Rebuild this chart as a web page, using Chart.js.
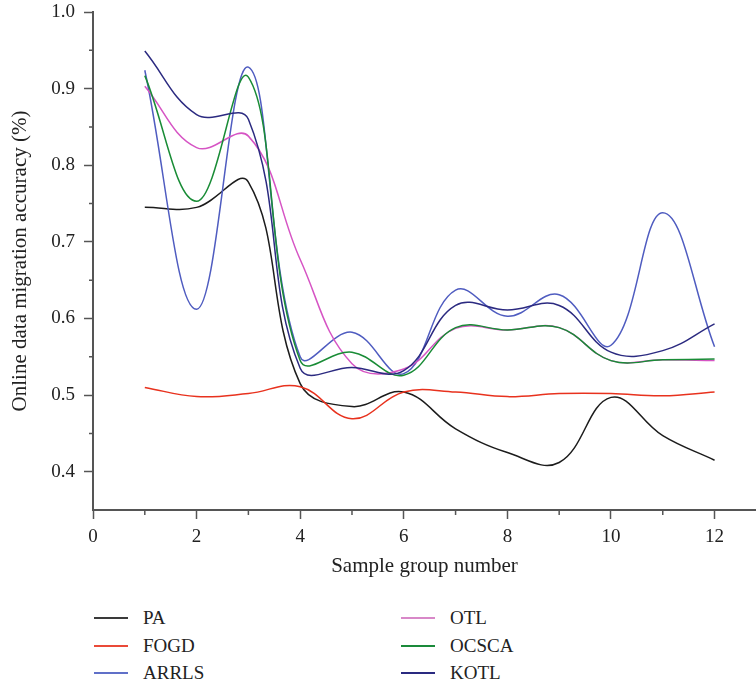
<!DOCTYPE html>
<html>
<head>
<meta charset="utf-8">
<script src="https://cdn.jsdelivr.net/npm/chart.js@4.4.0/dist/chart.umd.min.js"></script>
<style>
  body { margin: 0; background: #fff; }
  #wrap { position: relative; width: 756px; height: 686px; }
  #legend { font-family: 'Liberation Serif', serif; font-size: 19px; color: #222; }
  .item { position: absolute; height: 24px; display: flex; align-items: center; white-space: nowrap; }
  .swatch { width: 34px; height: 2px; margin-right: 15px; }
</style>
</head>
<body>
<div id="wrap">
  <canvas id="canvas-1" width="756" height="590"></canvas>
  <div id="legend"></div>
</div>
<script>
// sample groups 1..12
var groups = [1, 2, 3, 4, 5, 6, 7, 8, 9, 10, 11, 12];

var pa    = [0.745, 0.745, 0.778, 0.515, 0.485, 0.504, 0.456, 0.425, 0.412, 0.497, 0.447, 0.415];
var fogd  = [0.510, 0.498, 0.502, 0.511, 0.469, 0.504, 0.504, 0.498, 0.502, 0.502, 0.499, 0.504];
var arrls = [0.924, 0.612, 0.928, 0.550, 0.582, 0.528, 0.637, 0.603, 0.631, 0.565, 0.738, 0.563];
var otl   = [0.903, 0.823, 0.838, 0.677, 0.541, 0.534, 0.587, 0.585, 0.588, 0.545, 0.546, 0.545];
var ocsca = [0.917, 0.753, 0.915, 0.545, 0.556, 0.526, 0.588, 0.585, 0.588, 0.545, 0.546, 0.547];
var kotl  = [0.949, 0.866, 0.860, 0.535, 0.536, 0.532, 0.617, 0.611, 0.617, 0.556, 0.558, 0.593];

var names  = ['PA', 'FOGD', 'ARRLS', 'OTL', 'OCSCA', 'KOTL'];
var series = [pa, fogd, arrls, otl, ocsca, kotl];
var colors = ['#1c1c1c', '#e8321e', '#4f5cc0', '#d654c4', '#198c36', '#2b2a80'];
var legendColors = ['#3a3a3a', '#ea4a38', '#6070c8', '#d888c8', '#1a8a3a', '#2a2a80'];

var xTicks = [0, 2, 4, 6, 8, 10, 12];
var xMinor = [1, 3, 5, 7, 9, 11];
var yTicks = [0.4, 0.5, 0.6, 0.7, 0.8, 0.9, 1.0];
var yMinor = [0.45, 0.55, 0.65, 0.75, 0.85, 0.95];

var axisColor = '#555';
var serif = "'Liberation Serif', 'Times New Roman', serif";

Chart.defaults.font.family = serif;
Chart.defaults.color = '#222';

// short ticks between the labelled ones
var minorTicks = {
  id: 'minorTicks',
  afterDraw: function(chart) {
    var ctx = chart.ctx, x = chart.scales.x, y = chart.scales.y;
    ctx.save();
    ctx.strokeStyle = axisColor;
    ctx.lineWidth = 1.5;
    ctx.beginPath();
    xMinor.forEach(function(v) {
      var px = x.getPixelForValue(v);
      ctx.moveTo(px, x.top);
      ctx.lineTo(px, x.top + 5);
    });
    yMinor.forEach(function(v) {
      var py = y.getPixelForValue(v);
      ctx.moveTo(y.right - 4, py);
      ctx.lineTo(y.right, py);
    });
    ctx.stroke();
    ctx.restore();
  }
};

var datasets = series.map(function(vals, i) {
  return {
    label: names[i],
    data: vals.map(function(v, j) { return { x: groups[j], y: v }; }),
    borderColor: colors[i],
    backgroundColor: colors[i],
    borderWidth: 1.5,
    pointRadius: 0,
    tension: 0.4,
    fill: false,
    order: names.length - 1 - i
  };
});

var ctx = document.getElementById('canvas-1');
var chart = new Chart(ctx, {
  type: 'line',
  data: { datasets: datasets },
  plugins: [minorTicks],
  options: {
    responsive: false,
    animation: false,
    layout: { padding: 0 },
    plugins: { legend: { display: false }, tooltip: { enabled: false } },
    scales: {
      x: {
        type: 'linear',
        min: 0,
        max: 12.8,
        afterFit: function(scale) { scale.height = 80; },
        afterBuildTicks: function(scale) {
          scale.ticks = xTicks.map(function(v) { return { value: v }; });
        },
        ticks: { font: { size: 19 }, padding: 7, maxRotation: 0 },
        grid: { drawOnChartArea: false, tickLength: 9, tickWidth: 1.5, tickColor: axisColor },
        border: { color: axisColor, width: 2 },
        title: {
          display: true,
          text: 'Sample group number',
          font: { size: 21 },
          padding: { top: 0, bottom: 11 }
        }
      },
      y: {
        min: 0.35,
        max: 1.0,
        afterFit: function(scale) {
          scale.width = 93;
          scale.paddingTop = 12;
        },
        afterBuildTicks: function(scale) {
          scale.ticks = yTicks.map(function(v) { return { value: v }; });
        },
        ticks: {
          font: { size: 19 },
          padding: 9,
          callback: function(v) { return v.toFixed(1); }
        },
        grid: { drawOnChartArea: false, tickLength: 9, tickWidth: 1.5, tickColor: axisColor },
        border: { color: axisColor, width: 2 },
        title: {
          display: true,
          text: 'Online data migration accuracy (%)',
          font: { size: 21 },
          padding: { top: 8, bottom: 0 }
        }
      }
    }
  }
});

// legend in two columns under the plot
var legendCols = [94, 401];
var legendRows = [618, 646, 673];
var legend = document.getElementById('legend');
names.forEach(function(name, i) {
  var item = document.createElement('div');
  item.className = 'item';
  item.style.left = legendCols[Math.floor(i / 3)] + 'px';
  item.style.top = (legendRows[i % 3] - 12) + 'px';
  var sw = document.createElement('div');
  sw.className = 'swatch';
  sw.style.background = legendColors[i];
  item.appendChild(sw);
  item.appendChild(document.createTextNode(name));
  legend.appendChild(item);
});
</script>
</body>
</html>
